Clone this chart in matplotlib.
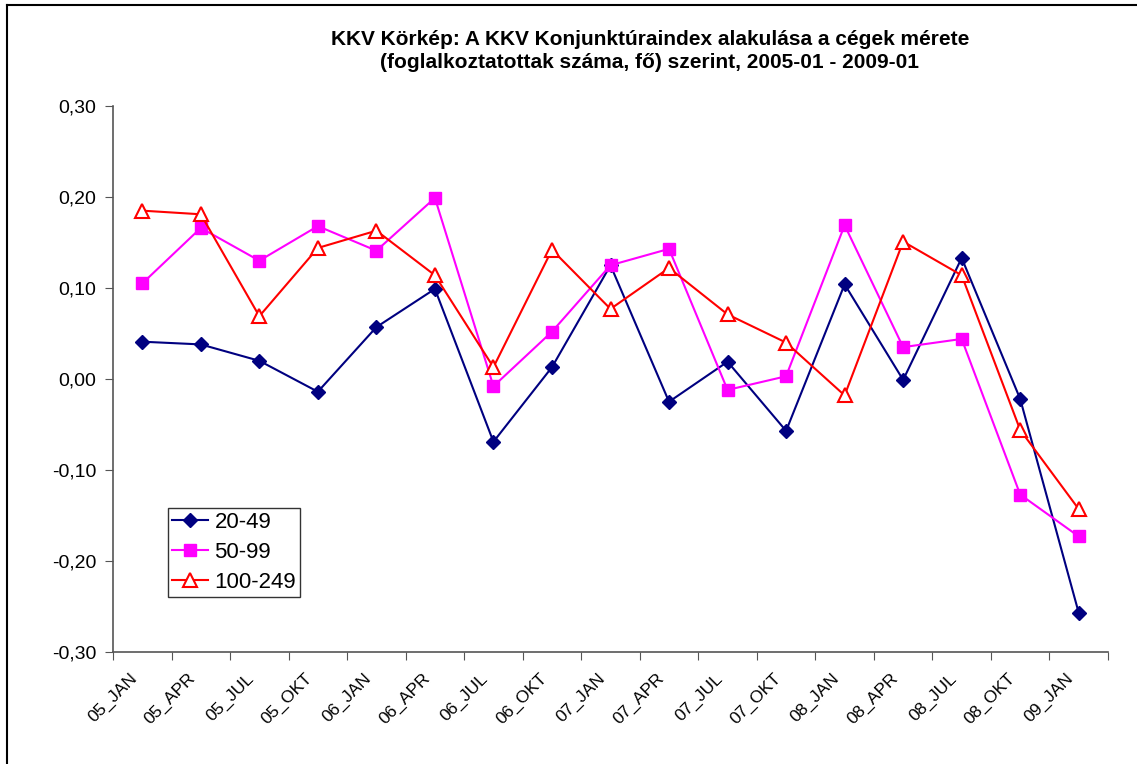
import numpy as np
import matplotlib.pyplot as plt
import matplotlib.transforms as mtransforms
from matplotlib.lines import Line2D

plt.rcParams['font.family'] = ['Liberation Sans', 'DejaVu Sans']

quarters = ["05_JAN", "05_APR", "05_JUL", "05_OKT", "06_JAN", "06_APR", "06_JUL",
            "06_OKT", "07_JAN", "07_APR", "07_JUL", "07_OKT", "08_JAN", "08_APR",
            "08_JUL", "08_OKT", "09_JAN"]

s_20_49 = [0.041, 0.038, 0.020, -0.014, 0.057, 0.099, -0.069, 0.013, 0.125,
           -0.025, 0.019, -0.057, 0.104, -0.001, 0.133, -0.022, -0.257]
s_50_99 = [0.105, 0.166, 0.130, 0.168, 0.141, 0.199, -0.008, 0.052, 0.125,
           0.143, -0.012, 0.003, 0.169, 0.035, 0.044, -0.127, -0.173]
s_100_249 = [0.185, 0.181, 0.069, 0.144, 0.163, 0.114, 0.013, 0.142, 0.077,
             0.122, 0.071, 0.040, -0.018, 0.151, 0.114, -0.056, -0.143]

title = ("KKV Körkép: A KKV Konjunktúraindex alakulása a cégek mérete\n"
         "(foglalkoztatottak száma, fő) szerint, 2005-01 - 2009-01")

fig = plt.figure(figsize=(11.37, 7.64), dpi=100)
ax = fig.add_axes([113 / 1137, 112 / 764, 995 / 1137, 546 / 764])

x = np.arange(len(quarters))
ax.plot(x, s_20_49, color="#000080", lw=1.5, marker="D", ms=7,
        mfc="#000080", mec="#000080", label="20-49")
ax.plot(x, s_50_99, color="#FF00FF", lw=1.5, marker="s", ms=9,
        mfc="#FF00FF", mec="#FF00FF", label="50-99")
ax.plot(x, s_100_249, color="#FF0000", lw=1.5, marker="^", ms=9.5,
        mfc="white", mec="#FF0000", mew=1.5, label="100-249")

ax.set_xlim(-0.5, len(quarters) - 0.5)
ax.set_ylim(-0.30, 0.30)

ax.set_xticks(np.arange(-0.5, len(quarters)))
ax.set_xticklabels([])
ax.set_xticks(x, minor=True)
ax.set_xticklabels(quarters, minor=True, rotation=45, ha="right", va="top",
                   rotation_mode="anchor", fontsize=12.5)
ax.tick_params(axis="x", which="minor", length=0, pad=4)
ax.tick_params(axis="x", which="major", length=6, color="#555555", direction="out")
shift = mtransforms.ScaledTranslation(-0.13, -0.13, fig.dpi_scale_trans)
for lbl in ax.get_xticklabels(minor=True):
    lbl.set_transform(lbl.get_transform() + shift)

yt = np.arange(-0.30, 0.31, 0.10)
ax.set_yticks(yt)
ax.set_yticklabels([f"{v:.2f}".replace(".", ",").replace("-0,00", "0,00") for v in yt],
                   fontsize=14)
ax.tick_params(axis="y", length=6, color="#555555", direction="out", pad=6)

for side in ("top", "right"):
    ax.spines[side].set_visible(False)
for side in ("left", "bottom"):
    ax.spines[side].set_color("#555555")
    ax.spines[side].set_linewidth(1.2)

leg = ax.legend(loc="lower left", bbox_to_anchor=(0.055, 0.1), fontsize=16,
                frameon=True, fancybox=False, edgecolor="black", handlelength=1.6,
                borderpad=0.2, labelspacing=0.4, handletextpad=0.3,
                borderaxespad=0)
leg.get_frame().set_linewidth(1.0)

fig.text(650 / 1137, 1 - 51 / 764, title, ha="center", va="center",
         fontsize=15, fontweight="bold", linespacing=1.3)

# chart frame (top and left visible)
fig.add_artist(Line2D([7 / 1137, 7 / 1137], [0, 1 - 5 / 764], color="black",
                      lw=1.5, transform=fig.transFigure))
fig.add_artist(Line2D([7 / 1137, 1136 / 1137], [1 - 5 / 764, 1 - 5 / 764],
                      color="black", lw=1.5, transform=fig.transFigure))

fig.savefig("out.png", dpi=100)
